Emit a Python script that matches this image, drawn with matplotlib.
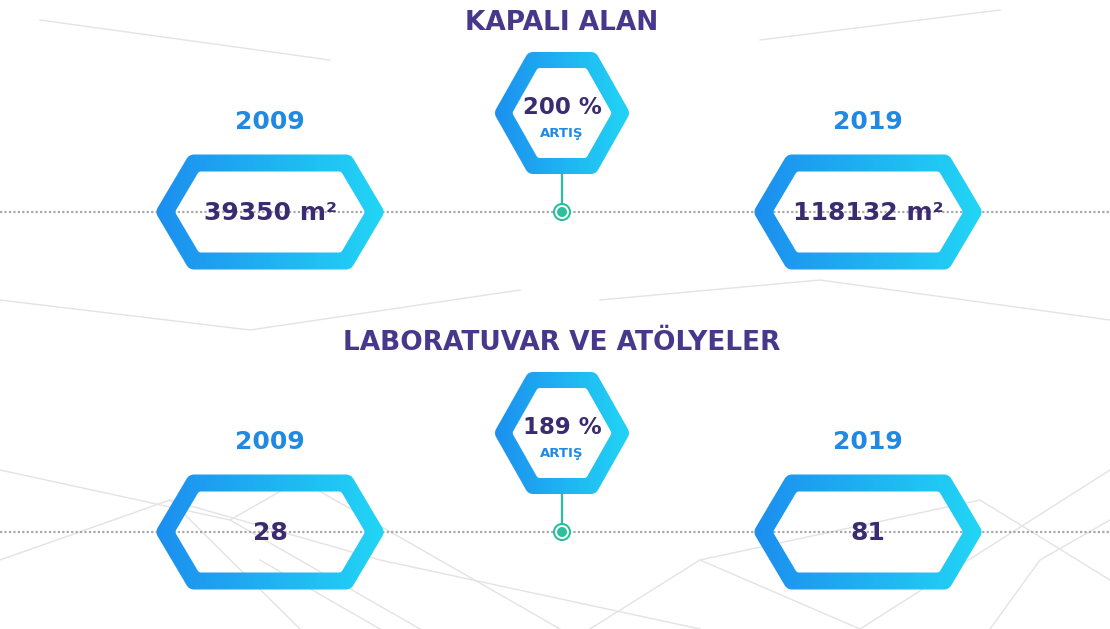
import numpy as np
import matplotlib.pyplot as plt
from matplotlib.path import Path
from matplotlib.patches import Circle
from matplotlib.colors import LinearSegmentedColormap

# veriler
basliklar = ["KAPALI ALAN", "LABORATUVAR VE ATÖLYELER"]
yillar = ["2009", "2019"]
deger_2009 = [39350, 28]
deger_2019 = [118132, 81]
birimler = [" m²", ""]
artis = [200, 189]

# arka plandaki soluk ag cizgileri (sadece susleme)
ag_x = [[0, 170, 300], [0, 230, 420], [170, 380, 700], [590, 700, 860],
        [700, 980, 1110], [860, 1110], [230, 300, 560], [990, 1040, 1110], [380, 260],
        [0, 250, 520], [600, 820, 1110], [40, 330], [760, 1000]]
ag_y = [[560, 500, 629], [470, 520, 629], [500, 560, 629], [629, 560, 629],
        [560, 500, 580], [629, 470], [520, 480, 629], [629, 560, 520], [629, 560],
        [300, 330, 290], [300, 280, 320], [20, 60], [40, 10]]

W, H = 1110, 629
fig = plt.figure(figsize=(W / 100, H / 100), dpi=100)
ax = fig.add_axes([0, 0, 1, 1])
ax.axis('off')

renk_baslik = '#47388c'
renk_deger = '#3b2b70'
renk_yil = '#2189e2'
renk_yesil = '#2bbf9e'
cmap = LinearSegmentedColormap.from_list('hex', ['#1c8cef', '#22d8f5'])


def altigen(cx, cy, w, h, s):
    return np.array([[cx - w, cy], [cx - w + s, cy - h], [cx + w - s, cy - h],
                     [cx + w, cy], [cx + w - s, cy + h], [cx - w + s, cy + h]])


def normaller(p):
    c = p.mean(axis=0)
    out = []
    for i in range(len(p)):
        a, b = p[i], p[(i + 1) % len(p)]
        e = b - a
        nv = np.array([e[1], -e[0]]) / np.hypot(*e)
        if np.dot(nv, (a + b) / 2 - c) < 0:
            nv = -nv
        out.append(nv)
    return out


def iceri(p, nl, d):
    q = []
    for i in range(len(p)):
        n1, n2 = nl[i - 1], nl[i]
        q.append(np.linalg.solve(np.array([n1, n2]), [n1 @ p[i] - d, n2 @ p[i] - d]))
    return np.array(q)


def yuvarlak(p, nl, d):
    out = []
    for i in range(len(p)):
        n1, n2 = nl[i - 1], nl[i]
        a1 = np.arctan2(n1[1], n1[0])
        a2 = np.arctan2(n2[1], n2[0])
        da = (a2 - a1 + np.pi) % (2 * np.pi) - np.pi
        t = np.linspace(a1, a1 + da, 10)
        out.extend(p[i] + d * np.c_[np.cos(t), np.sin(t)])
    return np.array(out)


def halka(p, d, r_ic=4):
    nl = normaller(p)
    dis = yuvarlak(p, nl, d)
    ic = yuvarlak(iceri(p, nl, d + r_ic), nl, r_ic)[::-1]
    verts = np.vstack([dis, dis[:1], ic, ic[:1]])
    codes = ([Path.MOVETO] + [Path.LINETO] * (len(dis) - 1) + [Path.CLOSEPOLY]
             + [Path.MOVETO] + [Path.LINETO] * (len(ic) - 1) + [Path.CLOSEPOLY])
    return Path(verts, codes)


def cerceve(cx, cy, w, h, s, kalinlik):
    yol = halka(altigen(cx, cy, w, h, s), kalinlik / 2)
    x0, x1 = cx - w - kalinlik, cx + w + kalinlik
    y0, y1 = cy - h - kalinlik, cy + h + kalinlik
    grad = np.linspace(0, 1, 256).reshape(1, -1)
    im = ax.imshow(grad, cmap=cmap, extent=[x0, x1, y1, y0], aspect='auto',
                   interpolation='bilinear', zorder=3)
    im.set_clip_path(yol, transform=ax.transData)


for xs, ys in zip(ag_x, ag_y):
    ax.plot(xs, ys, color='#e3e3e3', lw=1, zorder=0)

x_sol, x_orta, x_sag = 270, 562, 868
for k in range(2):
    cizgi_y = 212 + k * 320
    ax.plot([0, W], [cizgi_y, cizgi_y], color='#a9a9a9', lw=1.6,
            linestyle=(0, (1, 1)), zorder=1)
    ax.text(x_orta, cizgi_y - 189, basliklar[k], ha='center', va='center',
            fontsize=19, fontweight='bold', color=renk_baslik)

    # yil kutulari
    for x, yil, deger in [(x_sol, yillar[0], deger_2009[k]), (x_sag, yillar[1], deger_2019[k])]:
        cerceve(x, cizgi_y, 105, 49, 29, 17)
        ax.text(x, cizgi_y - 90, yil, ha='center', va='center', fontsize=18,
                fontweight='bold', color=renk_yil)
        ax.text(x, cizgi_y + 1, f"{deger}{birimler[k]}", ha='center', va='center',
                fontsize=18, fontweight='bold', color=renk_deger, zorder=5)

    # artis altigeni
    orta_y = cizgi_y - 99
    cerceve(x_orta, orta_y, 59, 53, 30, 16)
    ax.text(x_orta, orta_y - 6, f"{artis[k]} %", ha='center', va='center',
            fontsize=16.5, fontweight='bold', color=renk_deger, zorder=5)
    ax.text(x_orta, orta_y + 21, "ARTIŞ", ha='center', va='center',
            fontsize=9.5, fontweight='bold', color=renk_yil, zorder=5)
    ax.plot([x_orta, x_orta], [orta_y + 61, cizgi_y], color=renk_yesil, lw=1.6, zorder=2)
    ax.add_patch(Circle((x_orta, cizgi_y), 8, facecolor='white', edgecolor=renk_yesil,
                        lw=1.5, zorder=4))
    ax.add_patch(Circle((x_orta, cizgi_y), 5, facecolor=renk_yesil, zorder=5))

ax.set_xlim(0, W)
ax.set_ylim(H, 0)
fig.savefig('out.png', dpi=100, facecolor='white')
